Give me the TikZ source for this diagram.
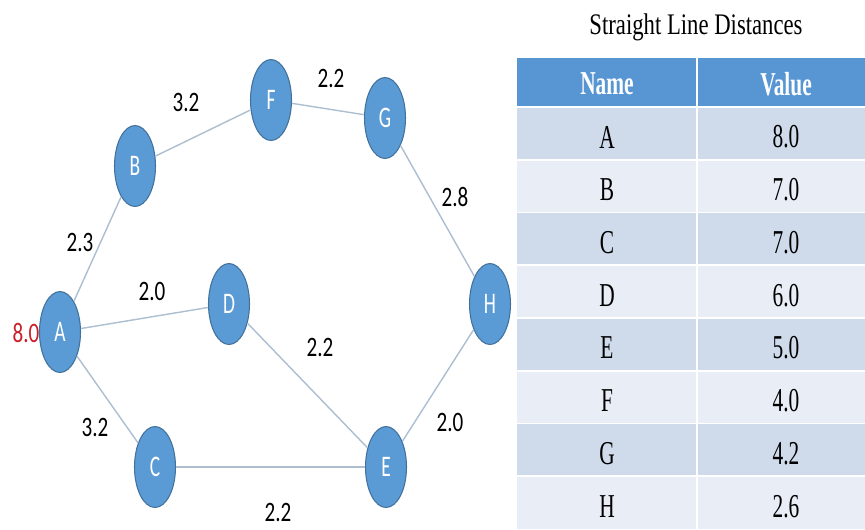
\documentclass[tikz,border=0pt]{standalone}
\usepackage{fontspec}
\setmainfont[FakeStretch=0.76]{Liberation Serif}
\newfontfamily\graphfont[FakeStretch=0.75]{Carlito}
\newfontfamily\letterfont[FakeStretch=0.65]{Carlito}
\newfontfamily\cellfont[FakeStretch=0.64]{Liberation Serif}
\usetikzlibrary{shapes.geometric}

\definecolor{nodeblue}{RGB}{91,155,213}
\definecolor{nodeedge}{RGB}{65,113,156}
\definecolor{linegray}{RGB}{172,190,208}
\definecolor{rowdark}{RGB}{207,218,235}
\definecolor{rowlight}{RGB}{233,238,246}
\definecolor{headblue}{RGB}{88,150,211}
\definecolor{hred}{RGB}{200,30,40}

\tikzset{
  city/.style={ellipse, fill=nodeblue, draw=nodeedge, line width=0.6pt,
    minimum width=0.82cm, minimum height=1.62cm, inner sep=0pt,
    text=white, font=\letterfont\fontsize{17}{17}\selectfont},
  road/.style={draw=linegray, line width=0.8pt},
  dist/.style={font=\graphfont\fontsize{16}{16}\selectfont},
  cell/.style={font=\cellfont\fontsize{19}{19}\selectfont},
  headcell/.style={font=\cellfont\bfseries\fontsize{19}{19}\selectfont, text=white},
}

\begin{document}
\begin{tikzpicture}[x=0.02cm, y=-0.02cm]
		%%%%% START %%%%%
		\useasboundingbox (0,0) rectangle (865,529);
		
		% graph
		\node[city] (A) at (60, 332) {A};
		\node[city] (B) at (135, 166) {B};
		\node[city] (F) at (271, 100) {F};
		\node[city] (G) at (385, 118) {G};
		\node[city] (D) at (229, 304) {D};
		\node[city] (H) at (490, 304) {H};
		\node[city] (C) at (155, 467) {C};
		\node[city] (E) at (386, 467) {E};
		
		\draw[road] (A) -- (B);
		\draw[road] (B) -- (F);
		\draw[road] (F) -- (G);
		\draw[road] (G) -- (H);
		\draw[road] (A) -- (D);
		\draw[road] (D) -- (E);
		\draw[road] (A) -- (C);
		\draw[road] (C) -- (E);
		\draw[road] (E) -- (H);
		
		\node[dist] (dAB) at (80, 242) {2.3};
		\node[dist] (dBF) at (186, 102) {3.2};
		\node[dist] (dFG) at (331, 78) {2.2};
		\node[dist] (dGH) at (455, 197) {2.8};
		\node[dist] (dAD) at (152, 291) {2.0};
		\node[dist] (dDE) at (320, 347) {2.2};
		\node[dist] (dAC) at (95, 427) {3.2};
		\node[dist] (dEH) at (450, 422) {2.0};
		\node[dist] (dCE) at (278, 512) {2.2};
		\node[dist, text=hred] (hA) at (26, 333) {8.0};
		
		% table
		\node[font=\fontsize{17}{17}\selectfont] (title) at (696, 27) {Straight Line Distances};
		\fill[headblue] (517, 58) rectangle (865, 107);
		\node[headcell] (hname) at (607, 84) {Name};
		\node[headcell] (hvalue) at (786, 84) {Value};
		\foreach \n/\v [count=\i] in {A/8.0, B/7.0, C/7.0, D/6.0, E/5.0, F/4.0, G/4.2, H/2.6} {
			\pgfmathsetmacro{\top}{107 + 52.75*(\i-1)}
			\ifodd\i \def\rowcol{rowdark}\else \def\rowcol{rowlight}\fi
			\fill[\rowcol] (517, \top) rectangle (865, \top+52.75);
			\draw[white, line width=1pt] (517, \top) -- (865, \top);
			\node[cell] (name\i) at (607, \top+30) {\n};
			\node[cell] (value\i) at (786, \top+30) {\v};
		}
		\draw[white, line width=1pt] (697, 58) -- (697, 529);
		%%%%% END %%%%%
\end{tikzpicture}
\end{document}
